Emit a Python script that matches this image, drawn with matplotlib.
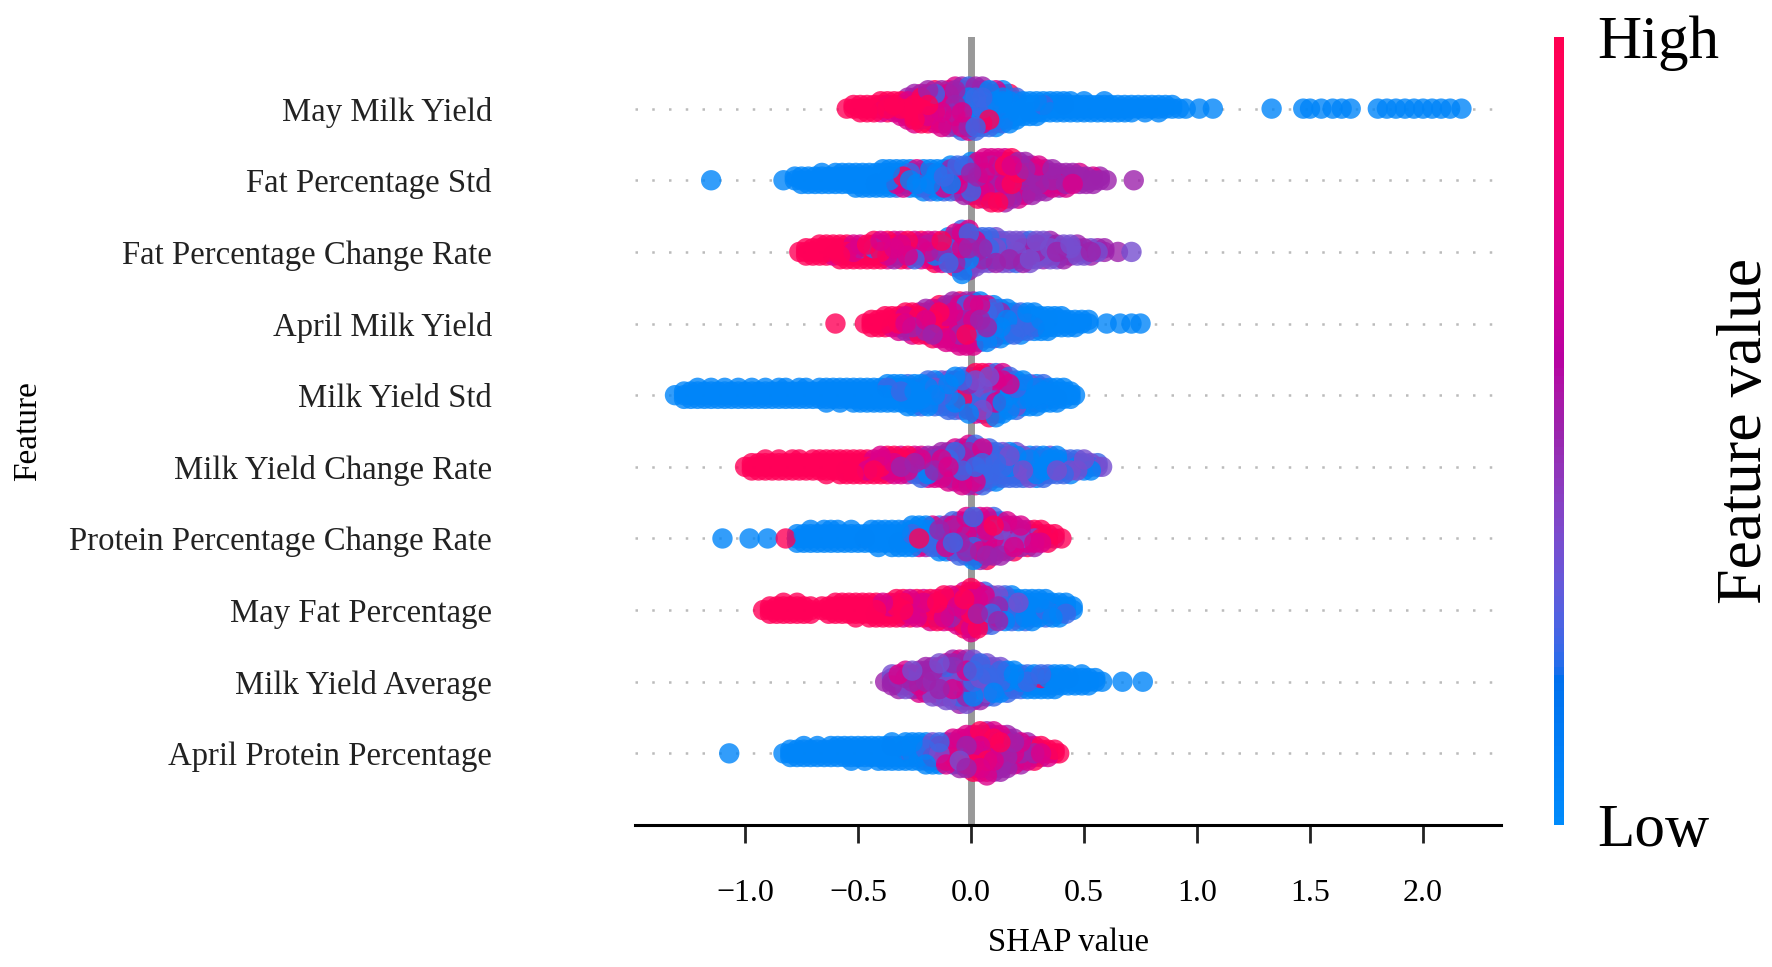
import matplotlib
matplotlib.use("Agg")
import matplotlib.pyplot as plt
from matplotlib.colors import ListedColormap
from matplotlib.cm import ScalarMappable
import numpy as np

plt.rcParams['font.family'] = ['Liberation Serif', 'DejaVu Serif']

features = ["May Milk Yield", "Fat Percentage Std", "Fat Percentage Change Rate",
            "April Milk Yield", "Milk Yield Std", "Milk Yield Change Rate",
            "Protein Percentage Change Rate", "May Fat Percentage",
            "Milk Yield Average", "April Protein Percentage"]

# feature value per colour code (0 = low, 1 = high)
level = {'b': 0.04, 'c': 0.22, 'v': 0.35, 'p': 0.5, 'm': 0.72, 'r': 0.96}

# (shap value, one code per sample at that value)
may_milk_yield = [
    (-0.55, 'r'), (-0.52, 'rr'), (-0.49, 'rrr'), (-0.46, 'rrr'), (-0.43, 'rrr'), (-0.40, 'rrmr'),
    (-0.37, 'rmrr'), (-0.34, 'rrmr'), (-0.31, 'rrmrm'), (-0.28, 'rmrmrpm'), (-0.25, 'mrmprmrpm'),
    (-0.22, 'rpmrmrpmr'), (-0.19, 'mrpmmrpmrp'), (-0.16, 'pmrmprmcmr'), (-0.13, 'mpmrcmpmrpm'),
    (-0.10, 'pmcprmpmcrp'), (-0.07, 'cpmpmcrpmpcm'), (-0.04, 'pcmpcpmrcpmpc'),
    (-0.01, 'cpmcpbmcprpcm'), (0.02, 'bcpcmcpbcrcpc'), (0.05, 'cbpcbcpcmbcp'),
    (0.08, 'bcbpcbrcpbc'), (0.11, 'cbcbpcbcbmb'), (0.14, 'bcbbcbpbcb'), (0.17, 'bbcbbcbrb'),
    (0.20, 'bcbbbcb'), (0.23, 'bbbbb'), (0.26, 'bbcbb'), (0.29, 'bbbbb'), (0.32, 'bcbb'),
    (0.35, 'bbbb'), (0.38, 'bbbb'), (0.41, 'bcbb'), (0.44, 'bbbb'), (0.47, 'bbb'), (0.50, 'bbbb'),
    (0.53, 'bbb'), (0.56, 'bbb'), (0.59, 'bbbb'), (0.62, 'bbb'), (0.65, 'bbb'), (0.68, 'bbb'),
    (0.71, 'bbb'), (0.74, 'bb'), (0.77, 'bbb'), (0.80, 'bb'), (0.83, 'bbb'), (0.86, 'bb'),
    (0.89, 'bb'), (0.92, 'b'), (0.95, 'b'), (1.01, 'b'), (1.07, 'b'), (1.33, 'b'),
    (1.47, 'b'), (1.50, 'b'), (1.55, 'b'), (1.60, 'b'), (1.64, 'b'), (1.68, 'b'),
    (1.80, 'b'), (1.84, 'b'), (1.88, 'b'), (1.92, 'b'), (1.96, 'b'), (2.00, 'b'),
    (2.04, 'b'), (2.08, 'b'), (2.12, 'b'), (2.17, 'b')]

fat_pct_std = [
    (-1.15, 'b'), (-0.83, 'b'), (-0.78, 'bb'), (-0.75, 'bbb'), (-0.72, 'bbb'), (-0.69, 'bbb'),
    (-0.66, 'bbbb'), (-0.63, 'bbb'), (-0.60, 'bbbb'), (-0.57, 'bbbb'), (-0.54, 'bbbb'),
    (-0.51, 'bbbbb'), (-0.48, 'bbbbb'), (-0.45, 'bbbbb'), (-0.42, 'bbcbb'), (-0.39, 'bbbbbb'),
    (-0.36, 'bcbbbb'), (-0.33, 'bbmbcb'), (-0.30, 'brbbmb'), (-0.27, 'bbrcbb'), (-0.24, 'bcbbbm'),
    (-0.21, 'cbbbcbb'), (-0.18, 'bcbpbbc'), (-0.15, 'cbpbcbb'), (-0.12, 'pcbcmbc'),
    (-0.09, 'cpbcmpcb'), (-0.06, 'pcmbpcmc'), (-0.03, 'cpmcbpmcp'), (0.00, 'pmcpmrcpmb'),
    (0.03, 'mpcrmpmcpmr'), (0.06, 'rmpmrcmprmpm'), (0.09, 'mrmpmrmcmrpmr'),
    (0.12, 'rmpmrmpmrmcmr'), (0.15, 'mrmprmmrpmrmp'), (0.18, 'pmrmpmrmpmpr'),
    (0.21, 'mpmrpmpmcpm'), (0.24, 'pmpmrpmpmp'), (0.27, 'mpmpmppmp'), (0.30, 'pmpmprpm'),
    (0.33, 'ppmpmpp'), (0.36, 'pmppmp'), (0.39, 'ppmpp'), (0.42, 'pmppm'), (0.45, 'ppmp'),
    (0.48, 'pppm'), (0.51, 'ppp'), (0.54, 'pmp'), (0.57, 'pp'), (0.60, 'p'), (0.72, 'p')]

fat_pct_change = [
    (-0.76, 'r'), (-0.73, 'rrr'), (-0.70, 'rrr'), (-0.67, 'rrrr'), (-0.64, 'rrrr'), (-0.61, 'rrmr'),
    (-0.58, 'rmrrr'), (-0.55, 'rrmrr'), (-0.52, 'mrrmr'), (-0.49, 'rcrmr'), (-0.46, 'crmrr'),
    (-0.43, 'mcrmrr'), (-0.40, 'rmrmrm'), (-0.37, 'mrmrmr'), (-0.34, 'rmmrpm'), (-0.31, 'mrpmrm'),
    (-0.28, 'rmmpmr'), (-0.25, 'mrmpcm'), (-0.22, 'pmrcmr'), (-0.19, 'mpmcrm'), (-0.16, 'cmbmpmr'),
    (-0.13, 'pmcbmrm'), (-0.10, 'mcpbmrcb'), (-0.07, 'cmpbmcpbrm'), (-0.04, 'pmcbmprcbmpcb'),
    (-0.01, 'mpcmbrmpbcpm'), (0.02, 'pcmpcmpcv'), (0.05, 'vpcvpmvc'), (0.08, 'vcpvcpvc'),
    (0.11, 'cvpvcvpv'), (0.14, 'vcvpvcv'), (0.17, 'pvcvpvv'), (0.20, 'vcvvpvc'),
    (0.23, 'vpvcvvp'), (0.26, 'vvpvvcv'), (0.29, 'pvvpvv'), (0.32, 'vpvvpv'), (0.35, 'vvpvvp'),
    (0.38, 'pvvpv'), (0.41, 'vpvvp'), (0.44, 'vvpv'), (0.47, 'pvvp'), (0.50, 'vpv'),
    (0.53, 'pvp'), (0.56, 'vp'), (0.59, 'pp'), (0.65, 'p'), (0.71, 'v')]

april_milk_yield = [
    (-0.60, 'r'), (-0.47, 'r'), (-0.44, 'rrr'), (-0.41, 'rrr'), (-0.38, 'rrrr'), (-0.35, 'rrmr'),
    (-0.32, 'rmrrm'), (-0.29, 'mrrmpr'), (-0.26, 'rmprmrm'), (-0.23, 'mpmrpmr'),
    (-0.20, 'pmrmprmp'), (-0.17, 'mrpmrmpmr'), (-0.14, 'rmpmrrmpmr'), (-0.11, 'pmrmprmrmpm'),
    (-0.08, 'mrpmrmrpmrmp'), (-0.05, 'rmpmrmpmrmprm'), (-0.02, 'mprmpmrmpcmpm'),
    (0.01, 'pmcmpbmpcmrpm'), (0.04, 'cpbmcpbcpmcb'), (0.07, 'bcpcbcpbcmb'),
    (0.10, 'cbcpbcbcpb'), (0.13, 'bcbcbpbcb'), (0.16, 'cbbcbcbb'), (0.19, 'bcbcbbc'),
    (0.22, 'bbcbbcb'), (0.25, 'cbbbcb'), (0.28, 'bbcbbb'), (0.31, 'bbbbb'), (0.34, 'bcbbb'),
    (0.37, 'bbbb'), (0.40, 'bbbb'), (0.43, 'bbb'), (0.46, 'bbb'), (0.49, 'bb'), (0.52, 'bb'),
    (0.60, 'b'), (0.66, 'b'), (0.71, 'b'), (0.75, 'b')]

milk_yield_std = [
    (-1.31, 'b'), (-1.27, 'bbb'), (-1.24, 'bbb'), (-1.21, 'bbbb'), (-1.18, 'bbb'), (-1.15, 'bbbb'),
    (-1.12, 'bbb'), (-1.09, 'bbbb'), (-1.06, 'bbb'), (-1.03, 'bbbb'), (-1.00, 'bbb'),
    (-0.97, 'bbbb'), (-0.94, 'bbb'), (-0.91, 'bbbb'), (-0.88, 'bbb'), (-0.85, 'bbbb'),
    (-0.82, 'bbbb'), (-0.79, 'bbb'), (-0.76, 'bbbb'), (-0.73, 'bbbb'), (-0.70, 'bbb'),
    (-0.67, 'bbbb'), (-0.64, 'bbbbb'), (-0.61, 'bbbb'), (-0.58, 'bbbbb'), (-0.55, 'bbbb'),
    (-0.52, 'bbbbb'), (-0.49, 'bbbbb'), (-0.46, 'bbbbb'), (-0.43, 'bbbbb'), (-0.40, 'bbbbb'),
    (-0.37, 'bbbcbb'), (-0.34, 'bbbbbb'), (-0.31, 'bcbbbb'), (-0.28, 'bbcbbcb'),
    (-0.25, 'cbbcbbb'), (-0.22, 'bcbcbbc'), (-0.19, 'cbcbcbbc'), (-0.16, 'bcbvcbcb'),
    (-0.13, 'cbvcbcbv'), (-0.10, 'vcbcvbcvc'), (-0.07, 'cvmcbvcpcb'), (-0.04, 'vcrvcmbcvc'),
    (-0.01, 'cmvrcpvcmcb'), (0.02, 'mrcvmcrvpcmr'), (0.05, 'rcmvrpcmvmcr'),
    (0.08, 'cmrvcmrpmvcmr'), (0.11, 'vmcrmvcmpvmcb'), (0.14, 'cvmcbvcmvcbm'),
    (0.17, 'bcvcbmcvbc'), (0.20, 'cbvcbcvbc'), (0.23, 'bcbvbcbb'), (0.26, 'cbbcbvb'),
    (0.29, 'bcbbcbb'), (0.32, 'bbcbbc'), (0.35, 'bcbbb'), (0.38, 'bbcbb'), (0.41, 'bbbb'),
    (0.44, 'bbb'), (0.46, 'b')]

milk_yield_change = [
    (-1.00, 'r'), (-0.97, 'rrr'), (-0.94, 'rrr'), (-0.91, 'rrrr'), (-0.88, 'rrr'), (-0.85, 'rrrr'),
    (-0.82, 'rrr'), (-0.79, 'rrrr'), (-0.76, 'rrrr'), (-0.73, 'rrr'), (-0.70, 'rrrr'),
    (-0.67, 'rrrr'), (-0.64, 'rrrrr'), (-0.61, 'rrrr'), (-0.58, 'rrrrr'), (-0.55, 'rrmrr'),
    (-0.52, 'rrrrr'), (-0.49, 'rmrrr'), (-0.46, 'rrmrr'), (-0.43, 'mrrmr'), (-0.40, 'rmrmrm'),
    (-0.37, 'mrmmrr'), (-0.34, 'mmrpmr'), (-0.31, 'pmmrmm'), (-0.28, 'mpmmpr'),
    (-0.25, 'mpmpcm'), (-0.22, 'pmcmpmc'), (-0.19, 'mpcmbpm'), (-0.16, 'cmpbmpm'),
    (-0.13, 'pmcmpbmp'), (-0.10, 'mpmcpmbpm'), (-0.07, 'pmpcmpmcpm'), (-0.04, 'mpcmpmpbmpm'),
    (-0.01, 'pmpmcpmpcmpm'), (0.02, 'cpmpmbpcmpmc'), (0.05, 'pcpmcpvcpmc'),
    (0.08, 'cvpcvbcpvc'), (0.11, 'vcbvcpvcb'), (0.14, 'cvbcvbcv'), (0.17, 'bcvcbvcb'),
    (0.20, 'vcbcvbcv'), (0.23, 'cbvcbvc'), (0.26, 'bcvbcbv'), (0.29, 'cbvcbcb'),
    (0.32, 'bcbvcbc'), (0.35, 'vbcbcv'), (0.38, 'cbvbcb'), (0.41, 'bcbvc'), (0.44, 'cbvcb'),
    (0.47, 'bcvc'), (0.50, 'vcbv'), (0.53, 'cvb'), (0.56, 'vc'), (0.58, 'v')]

protein_pct_change = [
    (-1.10, 'b'), (-0.98, 'b'), (-0.90, 'b'), (-0.82, 'r'), (-0.77, 'bbb'), (-0.74, 'bbb'),
    (-0.71, 'bbbb'), (-0.68, 'bbb'), (-0.65, 'bbbb'), (-0.62, 'bbbb'), (-0.59, 'bbbb'),
    (-0.56, 'bbb'), (-0.53, 'bbbb'), (-0.50, 'bbb'), (-0.47, 'rbb'), (-0.44, 'bbbb'),
    (-0.41, 'bbbbb'), (-0.38, 'bbbb'), (-0.35, 'bbbbb'), (-0.32, 'bbcbb'), (-0.29, 'bbbcb'),
    (-0.26, 'bcbbbb'), (-0.23, 'rbcbmb'), (-0.20, 'bmcbpb'), (-0.17, 'cpmbcm'), (-0.14, 'mbcpmcb'),
    (-0.11, 'bpmcmpb'), (-0.08, 'pmcbrmpc'), (-0.05, 'mcprmbpmc'), (-0.02, 'cmpmbrpmcm'),
    (0.01, 'pmbmcrmpmcb'), (0.04, 'mpcmrbmpcmp'), (0.07, 'pmrmcpmbpmr'), (0.10, 'mpmcmrpmpc'),
    (0.13, 'pmpvmpmcp'), (0.16, 'mpvmpmpm'), (0.19, 'pvmpmpr'), (0.22, 'vpmppm'), (0.25, 'pvmpr'),
    (0.28, 'vpmrp'), (0.31, 'rpmr'), (0.34, 'prr'), (0.37, 'pr'), (0.40, 'r')]

may_fat_pct = [
    (-0.92, 'r'), (-0.89, 'rrr'), (-0.86, 'rrr'), (-0.83, 'rrrr'), (-0.80, 'rrr'), (-0.77, 'rrrr'),
    (-0.74, 'rrr'), (-0.71, 'rrr'), (-0.66, 'rr'), (-0.63, 'rrr'), (-0.60, 'rrrr'),
    (-0.57, 'rrrr'), (-0.54, 'rrrr'), (-0.51, 'rrrrr'), (-0.48, 'rrrr'), (-0.45, 'rrrrr'),
    (-0.42, 'rrmrr'), (-0.39, 'rrrmr'), (-0.36, 'rmrrr'), (-0.33, 'mrrmrr'), (-0.30, 'rmrrmr'),
    (-0.27, 'mrmrrm'), (-0.24, 'rrmrmr'), (-0.21, 'mrrmrm'), (-0.18, 'rmrpmrm'),
    (-0.15, 'mrmrpmr'), (-0.12, 'rmprmrmr'), (-0.09, 'mrmrpmrm'), (-0.06, 'rmrmprmrm'),
    (-0.03, 'mrmrmrpmrmr'), (0.00, 'rmrmrmrmprmrm'), (0.03, 'mrpmrmrmpmr'), (0.06, 'pmrmpmrmpc'),
    (0.09, 'mpcmpvmpc'), (0.12, 'cpvbmcpv'), (0.15, 'bcvbcpbc'), (0.18, 'cbvbcbcb'),
    (0.21, 'bcbvcbb'), (0.24, 'cbbcbbc'), (0.27, 'bcbbcbb'), (0.30, 'bbcbbb'), (0.33, 'cbbbcb'),
    (0.36, 'bbcbb'), (0.39, 'bcbbb'), (0.42, 'bbcb'), (0.45, 'bb')]

milk_yield_avg = [
    (-0.38, 'p'), (-0.35, 'pvpv'), (-0.32, 'pvpmp'), (-0.29, 'vpmpvm'), (-0.26, 'pvpmpv'),
    (-0.23, 'vpmpvpm'), (-0.20, 'pmvpvpmp'), (-0.17, 'vpmpvpmpv'), (-0.14, 'pvpmpvpmpv'),
    (-0.11, 'mpvpmvpcpmv'), (-0.08, 'pvcpmpvcmpvp'), (-0.05, 'vpmcpvmpcpvmp'),
    (-0.02, 'pmvcpmbvpcmpv'), (0.01, 'cvpbmcvpbcmv'), (0.04, 'bvcpbcvmbcp'),
    (0.07, 'cbvcbpvcbv'), (0.10, 'bcvbcmbvc'), (0.13, 'cbrvbcbv'), (0.16, 'bcrbcbc'),
    (0.19, 'rbcbcb'), (0.22, 'bcbbc'), (0.25, 'cbbcb'), (0.28, 'bcbbb'), (0.31, 'brbcb'),
    (0.34, 'rbbcb'), (0.37, 'bbcbb'), (0.40, 'bbbb'), (0.43, 'bcbb'), (0.46, 'bbb'),
    (0.49, 'bbbb'), (0.52, 'bbb'), (0.55, 'bb'), (0.58, 'b'), (0.67, 'b'), (0.76, 'b')]

april_protein_pct = [
    (-1.07, 'b'), (-0.83, 'b'), (-0.80, 'bbb'), (-0.77, 'bbb'), (-0.74, 'bbbb'), (-0.71, 'bbb'),
    (-0.68, 'bbbb'), (-0.65, 'bbb'), (-0.62, 'bbbb'), (-0.59, 'bbbb'), (-0.56, 'bbbb'),
    (-0.53, 'bbbbb'), (-0.50, 'bbbb'), (-0.47, 'bbbbb'), (-0.44, 'bbbb'), (-0.41, 'bbbbb'),
    (-0.38, 'bbbbb'), (-0.35, 'bbbcbb'), (-0.32, 'bbbbb'), (-0.29, 'bcbbbb'), (-0.26, 'bbcbbb'),
    (-0.23, 'cbbcbb'), (-0.20, 'bcmbcbb'), (-0.17, 'cbmcbvb'), (-0.14, 'vcbmrcb'),
    (-0.11, 'cmvbrcm'), (-0.08, 'mcrvmbcm'), (-0.05, 'rmcmvrcmp'), (-0.02, 'mrmpcmrmpm'),
    (0.01, 'pmrmpmrmpmr'), (0.04, 'mprmpmrpmpmr'), (0.07, 'rmpmrmpmpmrpm'),
    (0.10, 'pmrpmpmrpmpm'), (0.13, 'mpmpmrpmpmp'), (0.16, 'pmpmpmpmpp'), (0.19, 'mpmpvpmp'),
    (0.22, 'pmpvpmp'), (0.25, 'vpmpmp'), (0.28, 'pmpmr'), (0.31, 'mrpr'), (0.34, 'rrm'),
    (0.37, 'rr'), (0.39, 'r')]

rows = [may_milk_yield, fat_pct_std, fat_pct_change, april_milk_yield, milk_yield_std,
        milk_yield_change, protein_pct_change, may_fat_pct, milk_yield_avg, april_protein_pct]
x_ticks = [-1.0, -0.5, 0.0, 0.5, 1.0, 1.5, 2.0]


# shap-style red/blue colormap, interpolated in LCH space
def lab_to_rgb(L, a, b):
    fy = (L + 16) / 116
    fx = fy + a / 500
    fz = fy - b / 200

    def finv(t):
        return np.where(t > 6 / 29, t ** 3, 3 * (6 / 29) ** 2 * (t - 4 / 29))
    xyz = np.array([0.95047 * finv(fx), finv(fy), 1.08883 * finv(fz)])
    m = np.array([[3.2406, -1.5372, -0.4986],
                  [-0.9689, 1.8758, 0.0415],
                  [0.0557, -0.2040, 1.0570]])
    rgb = m @ xyz
    rgb = np.where(rgb > 0.0031308, 1.055 * np.abs(rgb) ** (1 / 2.4) - 0.055, 12.92 * rgb)
    return np.clip(rgb, 0, 1).T


nsteps = 100
l_vals = np.concatenate([np.linspace(54, 40, nsteps // 2), np.linspace(40, 54, nsteps // 2)])
c_vals = np.linspace(70, 90, nsteps)
h_vals = np.linspace(4.6588, 0.35470565 + 2 * np.pi, nsteps)
red_blue = ListedColormap(lab_to_rgb(l_vals, c_vals * np.cos(h_vals), c_vals * np.sin(h_vals)))

fig = plt.figure(figsize=(17.72, 9.67), dpi=100)
ax = fig.add_axes([635 / 1772, 1 - 825 / 967, 866 / 1772, 788 / 967])

n_rows = len(rows)
ax.axvline(0, color='#999999', lw=5, zorder=-1)
for i, row in enumerate(rows):
    pos = n_rows - 1 - i
    ax.axhline(pos, color='#bbbbbb', lw=1.8, dashes=(1, 5.7), zorder=-1)

    xs, ys, cs = [], [], []
    for v, codes in row:
        for k, ch in enumerate(codes):
            xs.append(v)
            ys.append(np.ceil(k / 2) * (1 if k % 2 else -1))
            cs.append(level[ch])
    xs, ys, cs = np.array(xs), np.array(ys), np.array(cs)
    ys = ys * 0.9 * (0.4 / (ys.max() + 1))
    # mixed drawing order so no colour sits on top everywhere
    order = np.argsort((np.arange(len(xs)) * 0.6180339887) % 1.0)
    ax.scatter(xs[order], pos + ys[order], c=cs[order], cmap=red_blue, vmin=0, vmax=1,
               s=215, alpha=0.8, linewidths=0, zorder=3)

ax.set_xlim(-1.487, 2.345)
ax.set_ylim(-1, n_rows)
ax.set_yticks(range(n_rows))
ax.set_yticklabels(features[::-1])
ax.set_xticks(x_ticks)
for side in ['left', 'top', 'right']:
    ax.spines[side].set_visible(False)
ax.spines['bottom'].set_linewidth(2.2)
ax.tick_params(axis='x', length=13, width=2, pad=26, labelsize=23, color='#222222')
ax.tick_params(axis='y', length=0, pad=103, labelsize=23.6, labelcolor='#222222')
ax.set_xlabel('SHAP value', fontsize=23.5, labelpad=14)
ax.set_ylabel('Feature', fontsize=24)
ax.yaxis.set_label_coords(-0.683, 0.5)

cax = fig.add_axes([1554 / 1772, 1 - 825 / 967, 10 / 1772, 788 / 967])
cb = fig.colorbar(ScalarMappable(cmap=red_blue), cax=cax, ticks=[0, 1])
cb.set_ticklabels(['Low', 'High'])
cb.outline.set_visible(False)
cax.tick_params(length=0, pad=24, labelsize=44)
cb.set_label('Feature value', size=46, labelpad=-2)

fig.savefig('out.png', dpi=100)
